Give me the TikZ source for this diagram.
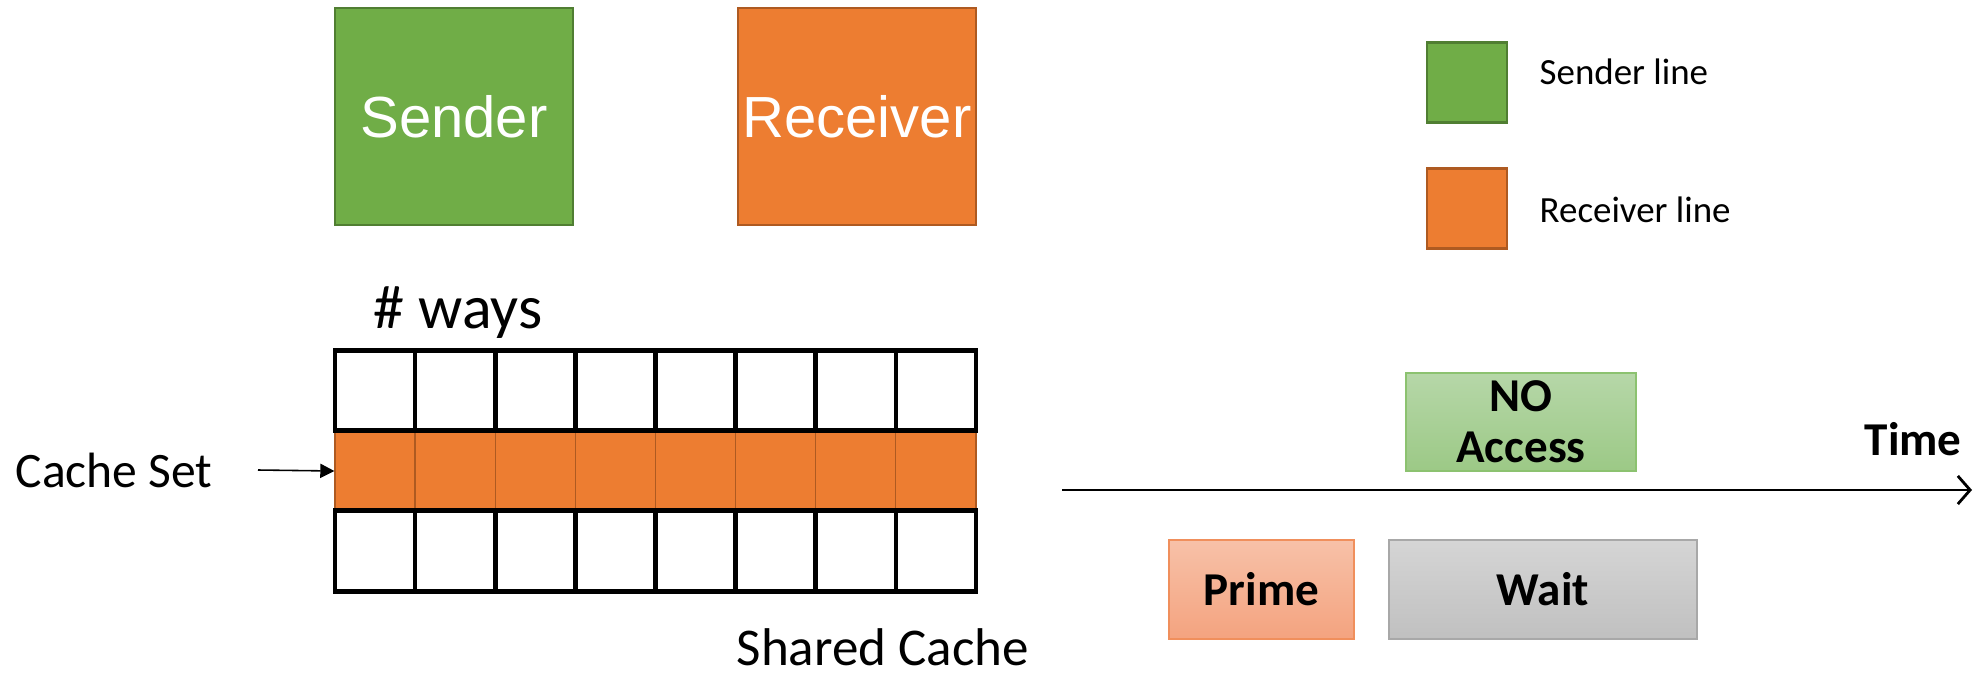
\documentclass[tikz,border=0pt]{standalone}
\usepackage{fontspec}
\setmainfont{Carlito}
\newfontfamily\arialfont{Liberation Sans}
\usetikzlibrary{arrows.meta}

\definecolor{sendgreen}{HTML}{70AD47}
\definecolor{sendgreenD}{HTML}{507E32}
\definecolor{recvorange}{HTML}{ED7D31}
\definecolor{recvorangeD}{HTML}{AE5A21}
\definecolor{noaccTop}{HTML}{B6D7A8}
\definecolor{noaccBot}{HTML}{9CC986}
\definecolor{noaccLine}{HTML}{8CC270}
\definecolor{primeTop}{HTML}{F7C1A8}
\definecolor{primeBot}{HTML}{F4A37F}
\definecolor{primeLine}{HTML}{F08F5C}
\definecolor{waitTop}{HTML}{D5D5D5}
\definecolor{waitBot}{HTML}{C0C0C0}
\definecolor{waitLine}{HTML}{A8A8A8}

\tikzset{
  agent/.style={rectangle, line width=0.6pt, text=white,
    font=\arialfont\fontsize{16.5}{20}\selectfont,
    minimum width=2.38cm, minimum height=2.17cm, inner sep=0pt},
  legendbox/.style={rectangle, line width=0.6pt,
    minimum width=0.80cm, minimum height=0.80cm, inner sep=0pt},
  legendtext/.style={anchor=base west, inner sep=0pt,
    font=\fontsize{10.5}{12}\selectfont},
  waycell/.style={rectangle, draw=black, line width=1.3pt,
    minimum width=0.80125cm, minimum height=0.805cm, inner sep=0pt},
  setcell/.style={rectangle, fill=recvorange, draw=recvorangeD, line width=0.35pt,
    minimum width=0.80125cm, minimum height=0.80cm, inner sep=0pt},
  phase/.style={rectangle, line width=0.5pt, inner sep=0pt, align=center,
    font=\bfseries\fontsize{13.4}{14.5}\selectfont},
  label/.style={inner sep=0pt, anchor=base west},
}

\begin{document}
\begin{tikzpicture}[x=0.01cm, y=-0.01cm]
\useasboundingbox (0,0) rectangle (1975,672);

% processes
\node[agent, fill=sendgreen, draw=sendgreenD] (sender) at (454,116.5) {Sender};
\node[agent, fill=recvorange, draw=recvorangeD] (receiver) at (857,116.5) {Receiver};

% legend
\node[legendbox, fill=sendgreen, draw=sendgreenD] (legS) at (1467,82.5) {};
\node[legendtext] (legStext) at (1539,84) {Sender line};
\node[legendbox, fill=recvorange, draw=recvorangeD] (legR) at (1467,208.5) {};
\node[legendtext] (legRtext) at (1539,222) {Receiver line};

% cache: the receiver's set in the middle row, plain sets above and below
\foreach \i in {0,...,7}{
  \node[setcell] (set\i) at ({375.06+80.125*\i},471) {};
}
\foreach \i in {0,...,7}{
  \node[waycell] (up\i) at ({375.06+80.125*\i},390.5) {};
  \node[waycell] (down\i) at ({375.06+80.125*\i},551) {};
}

\node[label, font=\fontsize{17.6}{20}\selectfont] (ways) at (373,328) {\# ways};
\node[label, font=\fontsize{14.1}{16}\selectfont] (cacheset) at (15,487) {Cache Set};
\node[label, font=\fontsize{15.1}{17}\selectfont] (shared) at (736,665) {Shared Cache};

\coordinate (setptr) at (258,470);
\draw[line width=0.45pt, -{Triangle[length=4pt, width=4pt]}] (setptr) -- (set0.west);

% timeline
\coordinate (tstart) at (1062,490);
\coordinate (tend) at (1972,490);
\draw[line width=0.8pt, -{Straight Barb[length=3.5pt, width=8pt, line width=0.8pt]}] (tstart) -- (tend);
\node[label, font=\bfseries\fontsize{13.4}{15}\selectfont] (time) at (1864,455) {Time};

\node[phase, top color=noaccTop, bottom color=noaccBot, draw=noaccLine,
  minimum width=2.30cm, minimum height=0.98cm, text depth=0pt,
  execute at begin node={\vspace*{3pt}}] (noacc) at (1521,422) {NO\\Access};
\node[phase, top color=primeTop, bottom color=primeBot, draw=primeLine,
  minimum width=1.85cm, minimum height=0.99cm] (prime) at (1261.5,589.5) {Prime};
\node[phase, top color=waitTop, bottom color=waitBot, draw=waitLine,
  minimum width=3.08cm, minimum height=0.99cm] (wait) at (1543,589.5) {Wait};
\end{tikzpicture}
\end{document}
